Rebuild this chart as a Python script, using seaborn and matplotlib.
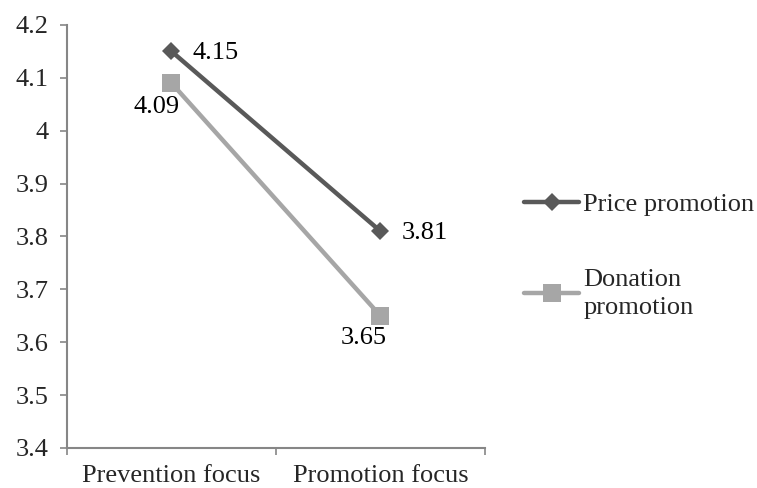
import pandas as pd
import matplotlib.pyplot as plt
import seaborn as sns

# ── DATA ─────────────────────────────────────────────
categories = ["Prevention focus", "Promotion focus"]
price_values = [4.15, 3.81]
donation_values = [4.09, 3.65]
series_names = ["Price promotion", "Donation\npromotion"]

df = pd.DataFrame({
    "Focus": categories * 2,
    "Score": price_values + donation_values,
    "Series": [series_names[0]] * 2 + [series_names[1]] * 2,
})

# ── STYLE ────────────────────────────────────────────
sns.set_style("white")
plt.rcParams["font.family"] = ["Liberation Serif", "DejaVu Serif"]
FS = 19

fig = plt.figure(figsize=(7.57, 4.88), dpi=100)
ax = fig.add_axes([0.0885, 0.082, 0.552, 0.867])

palette = {series_names[0]: "#595959", series_names[1]: "#a6a6a6"}
markers = {series_names[0]: "D", series_names[1]: "s"}
sizes = {series_names[0]: 9, series_names[1]: 13}

for name in series_names:
    sub = df[df["Series"] == name]
    sns.lineplot(data=sub, x="Focus", y="Score", ax=ax, color=palette[name],
                 marker=markers[name], markersize=sizes[name], linewidth=3.2,
                 markeredgewidth=0, label=name, sort=False)

# ── VALUE LABELS ─────────────────────────────────────
offsets = {
    (0, 0): (15, -1, "left", "center"),
    (0, 1): (15, -1, "left", "center"),
    (1, 0): (6, -9, "right", "top"),
    (1, 1): (-12, -8, "center", "top"),
}
for s, vals in enumerate([price_values, donation_values]):
    for i, v in enumerate(vals):
        dx, dy, ha, va = offsets[(s, i)]
        ax.annotate(f"{v:.2f}", (i, v), xytext=(dx, dy), textcoords="offset points",
                    ha=ha, va=va, fontsize=FS, color="black")

# ── AXES ─────────────────────────────────────────────
ax.set_xlim(-0.5, 1.5)
ax.set_ylim(3.4, 4.2)
ax.set_yticks([3.4, 3.5, 3.6, 3.7, 3.8, 3.9, 4.0, 4.1, 4.2])
ax.set_yticklabels(["3.4", "3.5", "3.6", "3.7", "3.8", "3.9", "4", "4.1", "4.2"])
ax.set_xticks([0, 1])
ax.set_xticklabels(categories)
ax.set_xticks([-0.5, 0.5, 1.5], minor=True)
ax.tick_params(axis="x", which="major", length=0, pad=12, labelsize=FS)
ax.tick_params(axis="x", which="minor", bottom=True, length=5, color="#868686",
               width=1.2, direction="out")
ax.tick_params(axis="y", left=True, length=5, color="#868686", width=1.2,
               direction="out", pad=8, labelsize=FS)
ax.set_xlabel("")
ax.set_ylabel("")
for side in ["top", "right"]:
    ax.spines[side].set_visible(False)
for side in ["left", "bottom"]:
    ax.spines[side].set_color("#868686")
    ax.spines[side].set_linewidth(1.5)

leg = ax.legend(loc="upper left", bbox_to_anchor=(0.692, 0.605), bbox_transform=fig.transFigure,
                frameon=False, fontsize=FS, handlelength=2.1, labelspacing=2.0,
                handletextpad=0.15, borderaxespad=0, borderpad=0)
for t in leg.get_texts():
    t.set_linespacing(1.35)

plt.savefig("out.png", dpi=100)
